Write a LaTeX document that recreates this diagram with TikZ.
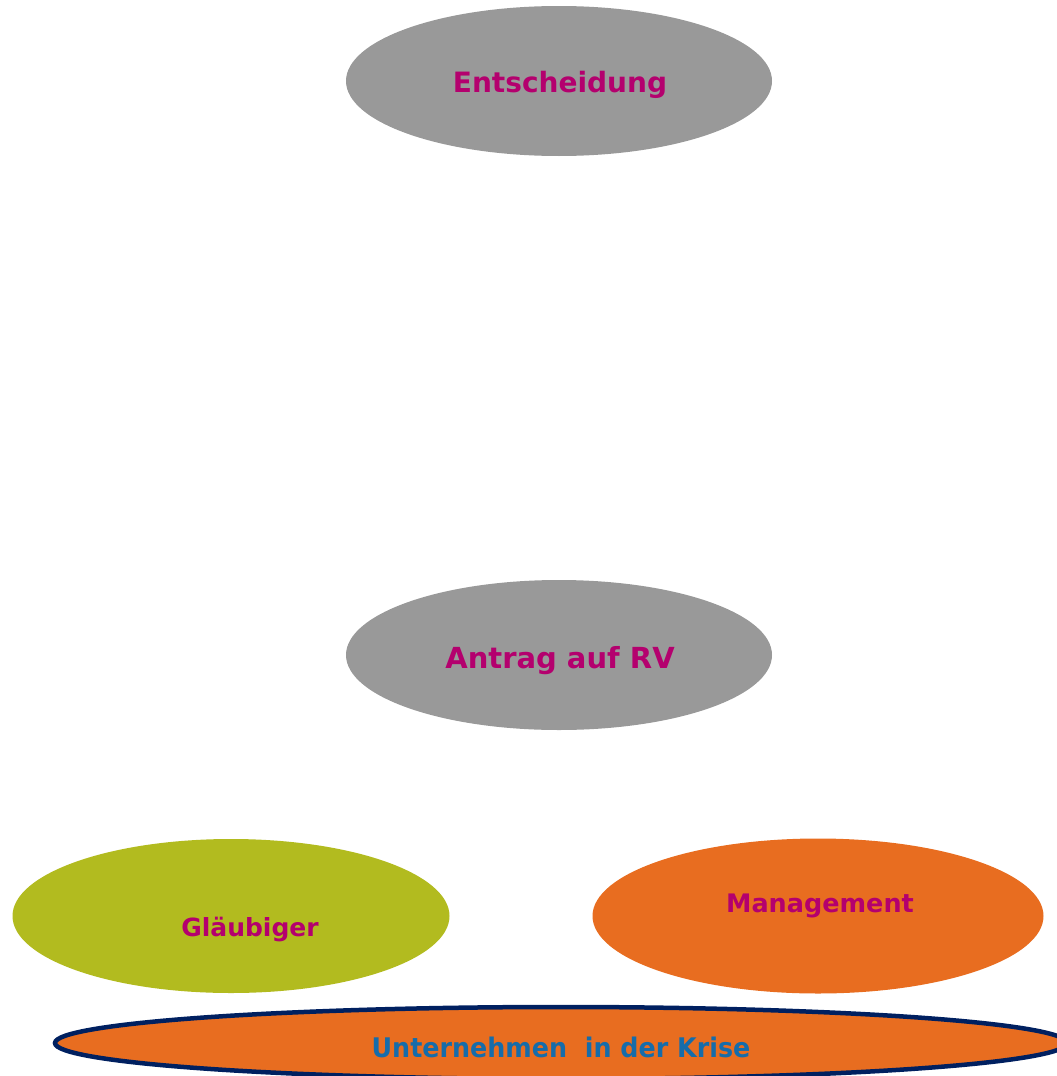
\documentclass[tikz,border=0pt]{standalone}
\usepackage{fontspec}
\setmainfont{DejaVu Sans}
\usetikzlibrary{shapes.geometric}
\definecolor{grayfill}{HTML}{999999}
\definecolor{magtext}{RGB}{180,0,110}
\definecolor{greenfill}{RGB}{178,187,31}
\definecolor{orangefill}{RGB}{232,109,32}
\definecolor{navyline}{RGB}{0,32,96}
\definecolor{bluetext}{RGB}{22,108,170}
\tikzset{
  oval/.style={ellipse, draw=none, inner sep=0pt},
  lbl/.style={anchor=base, inner sep=0pt, font=\bfseries, text=magtext}
}
\begin{document}
\begin{tikzpicture}[x=1pt,y=-1pt]
\useasboundingbox (0,0) rectangle (1057,1076);
\clip (0,0) rectangle (1057,1076);
% ellipses
\node[oval, fill=grayfill, minimum width=426pt, minimum height=150pt] (ent) at (559,81) {};
\node[oval, fill=grayfill, minimum width=426pt, minimum height=150pt] (ant) at (559,655) {};
\node[oval, fill=greenfill, minimum width=437pt, minimum height=154pt] (gla) at (231,916) {};
\node[oval, fill=orangefill, minimum width=451pt, minimum height=155pt] (man) at (818,916) {};
\node[ellipse, fill=orangefill, draw=navyline, line width=4.5pt, inner sep=0pt, minimum width=1012pt, minimum height=72pt] (unt) at (561,1043) {};
% labels
\node[lbl, font=\fontsize{28}{30}\selectfont\bfseries] (entT) at (560,92) {Entscheidung};
\node[lbl, font=\fontsize{29}{31}\selectfont\bfseries] (antT) at (560,668) {Antrag auf RV};
\node[lbl, font=\fontsize{25}{27}\selectfont\bfseries] (glaT) at (250,936) {Gläubiger};
\node[lbl, font=\fontsize{25.5}{27}\selectfont\bfseries] (manT) at (820,912) {Management};
\node[lbl, text=bluetext] (untT) at (561,1057) {\scalebox{0.94}[1]{\fontsize{27}{29}\selectfont\bfseries Unternehmen\ \ in der Krise}};
\end{tikzpicture}
\end{document}
